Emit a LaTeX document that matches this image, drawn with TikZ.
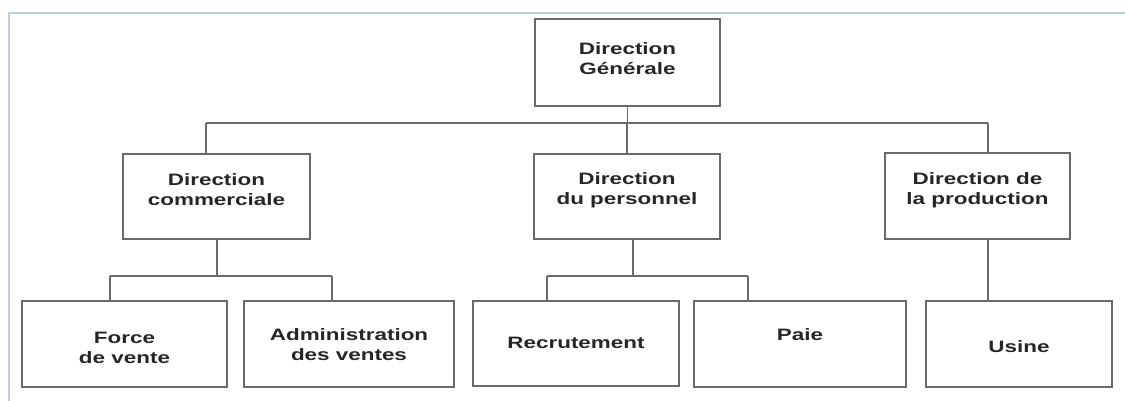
\documentclass[tikz,border=0pt]{standalone}
\usepackage{fontspec}
\setmainfont[FakeStretch=1.36]{Liberation Sans}
\usetikzlibrary{calc}
\definecolor{frameblue}{HTML}{BCCFE6}
\definecolor{boxgray}{HTML}{6A6A6A}
\definecolor{txtgray}{HTML}{262626}
\tikzset{
  box/.style={draw=boxgray, line width=1.3pt, rectangle, inner sep=0pt},
  txt/.style={align=center, font=\fontsize{16.5}{20}\selectfont\bfseries, text=txtgray, inner sep=0pt},
  link/.style={draw=boxgray, line width=1.3pt}
}
\begin{document}
\begin{tikzpicture}[x=1pt,y=-1pt]
\useasboundingbox (0,0) rectangle (1125,401);
\fill[white] (0,0) rectangle (1125,401);
% frame
\draw[frameblue, line width=2pt] (9,401) -- (9,13) -- (1125,13);

% level 1
\node[box, minimum width=185pt, minimum height=87pt] (dg) at (627.5,62.5) {};
\node[txt] (dgt) at (627.5,59) {Direction\\Générale};

% level 2
\node[box, minimum width=187pt, minimum height=85pt] (dc) at (216.5,196.5) {};
\node[txt] (dct) at (216.5,190) {Direction\\commerciale};
\node[box, minimum width=186pt, minimum height=85pt] (dp) at (627,196.5) {};
\node[txt] (dpt) at (627,190) {Direction\\du personnel};
\node[box, minimum width=185pt, minimum height=86pt] (dpr) at (977.5,196) {};
\node[txt] (dprt) at (977.5,190) {Direction de\\la production};

% level 3
\node[box, minimum width=205pt, minimum height=86pt] (fv) at (124.5,344) {};
\node[txt] (fvt) at (124.5,348) {Force\\de vente};
\node[box, minimum width=210pt, minimum height=86pt] (av) at (349,344) {};
\node[txt] (avt) at (349,345) {Administration\\des ventes};
\node[box, minimum width=206pt, minimum height=85pt] (rec) at (576,343.5) {};
\node[txt] (rect) at (576,343) {Recrutement};
\node[box, minimum width=212pt, minimum height=86pt] (paie) at (800,344) {};
\node[txt] (paiet) at (800,335) {Paie};
\node[box, minimum width=186pt, minimum height=86pt] (us) at (1019,344) {};
\node[txt] (ust) at (1019,347) {Usine};

% connectors level 1 -> 2
\coordinate (b1) at (206,123);
\coordinate (b3) at (988,123);
\draw[link] (b1) -- (b3);
\draw[link] (dg.south) -- (dg.south |- b1);
\draw[link] (b1) -- (b1 |- dc.north);
\draw[link] (dp.north) -- (dp.north |- b1);
\draw[link] (b3) -- (b3 |- dpr.north);

% connectors dc -> fv, av
\coordinate (c0) at (217,276);
\coordinate (c1) at (110,276);
\coordinate (c2) at (332,276);
\draw[link] (c0 |- dc.south) -- (c0);
\draw[link] (c1) -- (c2);
\draw[link] (c1) -- (c1 |- fv.north);
\draw[link] (c2) -- (c2 |- av.north);

% connectors dp -> rec, paie
\coordinate (d0) at (633,276);
\coordinate (d1) at (547,276);
\coordinate (d2) at (748,276);
\draw[link] (d0 |- dp.south) -- (d0);
\draw[link] (d1) -- (d2);
\draw[link] (d1) -- (d1 |- rec.north);
\draw[link] (d2) -- (d2 |- paie.north);

% connector dpr -> usine
\coordinate (e0) at (988,276);
\draw[link] (e0 |- dpr.south) -- (e0 |- us.north);
\end{tikzpicture}
\end{document}
